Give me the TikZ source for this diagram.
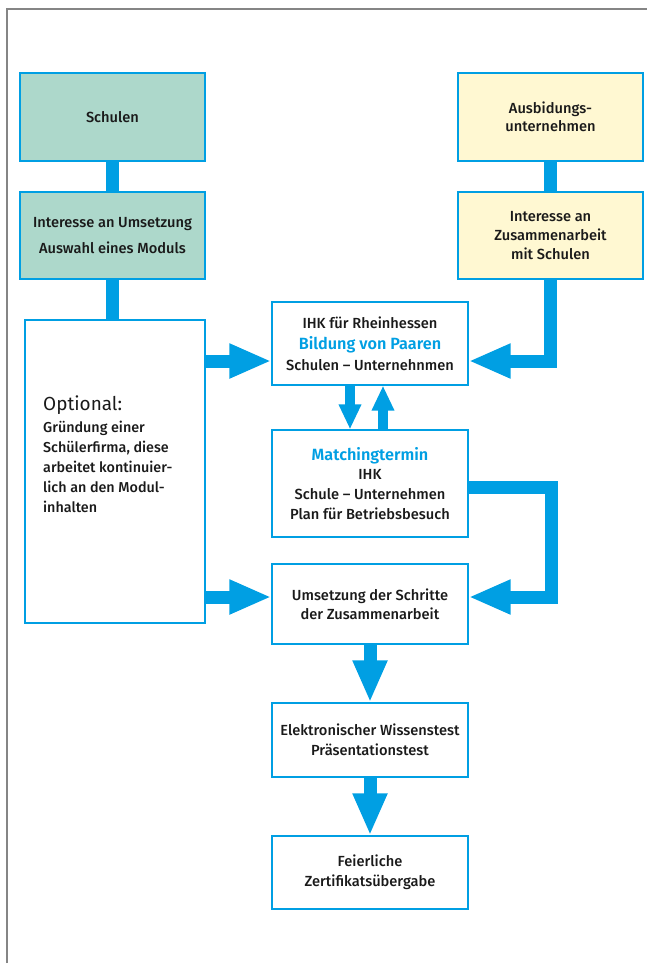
\documentclass[tikz,border=0pt]{standalone}
\usepackage{fontspec}
\setmainfont{Fira Sans}[UprightFont={* Medium}, BoldFont={* SemiBold}]
\newfontfamily\leicht{Fira Sans}
\usetikzlibrary{arrows.meta}
\definecolor{ihkblau}{HTML}{009FE3}
\definecolor{schulgruen}{HTML}{ADD8CB}
\definecolor{firmgelb}{HTML}{FFF8D2}
\definecolor{rahmen}{HTML}{858585}
\definecolor{schrift}{HTML}{1A1A1A}
\tikzstyle{kasten} = [draw=ihkblau, line width=1.2bp, fill=white, align=center, inner sep=0pt, minimum width=196bp, text=schrift, font={\fontsize{14.7}{20}\selectfont}]
\tikzstyle{schule} = [fill=schulgruen, minimum width=185bp]
\tikzstyle{firma} = [fill=firmgelb, minimum width=185bp]
\tikzstyle{balken} = [draw=ihkblau, line width=13bp]
\tikzstyle{pfeil} = [balken, line join=miter, -{Triangle[length=42bp,width=32bp]}]
\tikzstyle{pfeilklein} = [draw=ihkblau, line width=10bp, -{Triangle[length=25bp,width=21bp]}]
\newcommand{\blau}[1]{{\fontsize{16.3}{20}\selectfont\textbf{\textcolor{ihkblau}{#1}}}}

\begin{document}
\begin{tikzpicture}[x=1bp,y=-1bp]
    \useasboundingbox (0,0) rectangle (647,965);
    \draw[rahmen, line width=1.5bp] (7,963) -- (7,9) -- (647,9);
    \node[kasten,schule,minimum height=88bp](schulen) at (112.5,117){Schulen};
    \node[kasten,schule,minimum height=87bp,font={\fontsize{14.7}{27}\selectfont}](umsetz) at (112.5,235.5){Interesse an Umsetzung\\Auswahl eines Moduls};
    \node[kasten,firma,minimum height=88bp,font={\fontsize{14.7}{18}\selectfont}](ausb) at (550.5,117){Ausbidungs-\\unternehmen};
    \node[kasten,firma,minimum height=87bp,font={\fontsize{14.7}{19}\selectfont}](zusam) at (550.5,235.5){Interesse an\\Zusammenarbeit\\mit Schulen};
    \node[kasten,minimum width=180bp,minimum height=303bp](opt) at (115,471.5){};
    \node[anchor=north west,align=left,text=schrift,inner sep=0pt,font={\fontsize{14.4}{20}\selectfont}](optxt) at (43,396){{\leicht\fontsize{19}{24}\selectfont Optional:}\\[2bp]Gründung einer\\Schülerfirma, diese\\arbeitet kontinuier-\\lich an den Modul-\\inhalten};
    \node[kasten,minimum height=83bp,font={\fontsize{14.7}{21}\selectfont}](ihk) at (370,343.5){IHK für Rheinhessen\\\blau{Bildung von Paaren}\\Schulen – Unternehnmen};
    \node[kasten,minimum height=107bp](match) at (370,483.5){\blau{Matchingtermin}\\IHK\\Schule – Unternehmen\\Plan für Betriebsbesuch};
    \node[kasten,minimum height=80bp,font={\fontsize{14.7}{19}\selectfont}](schritte) at (370,604){Umsetzung der Schritte\\der Zusammenarbeit};
    \node[kasten,minimum height=74bp](test) at (370,740){Elektronischer Wissenstest\\Präsentationstest};
    \node[kasten,minimum height=73bp](zert) at (370,872.5){Feierliche\\Zertifikatsübergabe};
    \coordinate (paar) at (0,361);
    \coordinate (schritt) at (0,597);
    \coordinate (knick) at (551,487);
    \draw[balken](schulen.south)--(umsetz.north);
    \draw[balken](umsetz.south)--(umsetz.south |- opt.north);
    \draw[balken](ausb.south)--(zusam.north);
    \draw[pfeil](zusam.south)|-(ihk.east |- paar);
    \draw[pfeil](opt.east |- paar)--(ihk.west |- paar);
    \draw[pfeil](opt.east |- schritt)--(schritte.west |- schritt);
    \draw[pfeil](match.east |- knick)--(knick)|-(schritte.east |- schritt);
    \draw[pfeilklein]([xshift=-20bp]ihk.south)--([xshift=-20bp]match.north);
    \draw[pfeilklein]([xshift=13bp]match.north)--([xshift=13bp]ihk.south);
    \draw[pfeil](schritte.south)--(test.north);
    \draw[pfeil](test.south)--(zert.north);
  \end{tikzpicture}
\end{document}
